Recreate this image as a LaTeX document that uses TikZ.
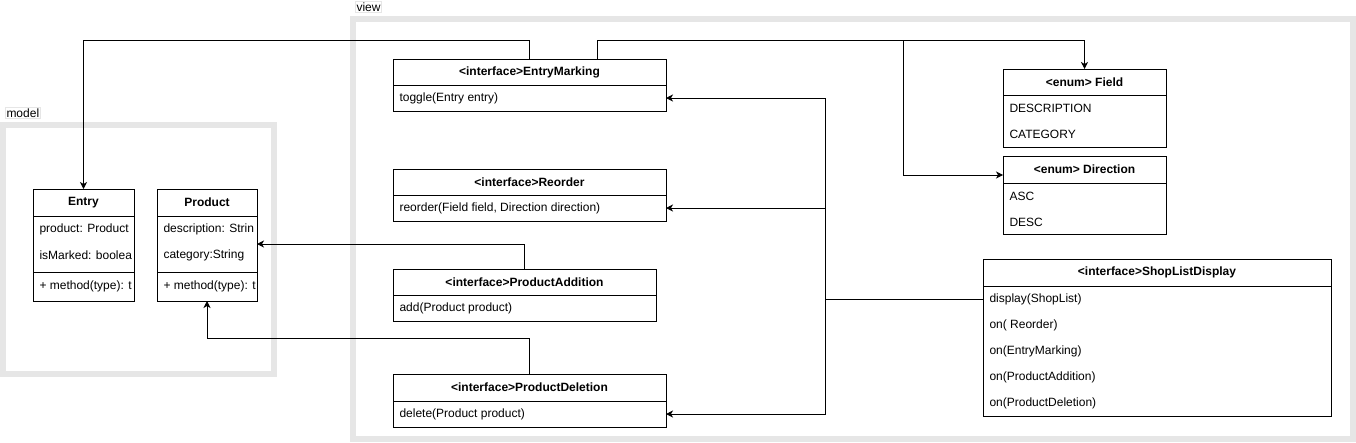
\documentclass[tikz,border=0pt]{standalone}
\usepackage{fontspec}
\setmainfont{Liberation Sans}
\usetikzlibrary{positioning,arrows.meta}
\definecolor{framegrey}{HTML}{E6E6E6}
\tikzset{
  pkgframe/.style={draw=framegrey, line width=6pt},
  pkglabel/.style={draw=framegrey, fill=white, inner sep=1pt, anchor=north west},
  classhead/.style={draw, font=\fontsize{12}{14}\selectfont\bfseries, minimum height=26pt, inner sep=0pt, outer sep=0pt},
  classbody/.style={draw, inner sep=0pt, outer sep=0pt},
  row/.style={anchor=west, inner sep=0pt},
}

\begin{document}
\begin{tikzpicture}[x=1pt,y=-1pt,font=\fontsize{12}{14}\selectfont,line width=1pt,>={Stealth[length=7pt,width=7pt,inset=2pt]}]
			\useasboundingbox (0,0) rectangle (1356,442);
			% packages
			\draw[pkgframe] (3,125) rectangle (274,374);
			\draw[pkgframe] (353,19) rectangle (1353,439);
			\node[pkglabel] (model) at (5,107) {model};
			\node[pkglabel] (view) at (355,1) {view};

			% model classes
			\node[classhead, minimum width=101pt, minimum height=27pt] (entry) at (83.5,202.5) {Entry};
			\node[classbody, minimum width=101pt, minimum height=56pt, below=0pt of entry] (entry-a) {};
			\node[classbody, minimum width=101pt, minimum height=29pt, below=0pt of entry-a] (entry-m) {};
			\node[classhead, minimum width=100pt, minimum height=27pt] (prod) at (207,202.5) {Product};
			\node[classbody, minimum width=100pt, minimum height=56pt, below=0pt of prod] (prod-a) {};
			\node[classbody, minimum width=100pt, minimum height=29pt, below=0pt of prod-a] (prod-m) {};
			\node[row] at ([xshift=6pt,yshift=-13pt]entry-a.north west) {product: Product};
			\node[row] at ([xshift=6pt,yshift=-39pt]entry-a.north west) {isMarked: boolea};
			\node[row] at ([xshift=6pt]entry-m.west) {+ method(type): t};
			\node[row] at ([xshift=6pt,yshift=-13pt]prod-a.north west) {description: Strin};
			\node[row] at ([xshift=6pt,yshift=-39pt]prod-a.north west) {category:String};
			\node[row] at ([xshift=6pt]prod-m.west) {+ method(type): t};

			% view interfaces
			\node[classhead, minimum width=273pt] (em) at (529.5,72) {<interface>EntryMarking};
			\node[classbody, minimum width=273pt, minimum height=26pt, below=0pt of em] (em-b) {};
			\node[row] at ([xshift=6pt]em-b.west) {toggle(Entry entry)};
			\node[classhead, minimum width=273pt] (ro) at (529.5,182) {<interface>Reorder};
			\node[classbody, minimum width=273pt, minimum height=26pt, below=0pt of ro] (ro-b) {};
			\node[row] at ([xshift=6pt]ro-b.west) {reorder(Field field, Direction direction)};
			\node[classhead, minimum width=263pt] (pa) at (524.5,282) {<interface>ProductAddition};
			\node[classbody, minimum width=263pt, minimum height=26pt, below=0pt of pa] (pa-b) {};
			\node[row] at ([xshift=6pt]pa-b.west) {add(Product product)};
			\node[classhead, minimum width=273pt, minimum height=27pt] (pd) at (529.5,387.5) {<interface>ProductDeletion};
			\node[classbody, minimum width=273pt, minimum height=26pt, below=0pt of pd] (pd-b) {};
			\node[row] at ([xshift=6pt]pd-b.west) {delete(Product product)};

			% enums
			\node[classhead, minimum width=163pt] (fld) at (1084.5,82) {<enum> Field};
			\node[classbody, minimum width=163pt, minimum height=52pt, below=0pt of fld] (fld-b) {};
			\node[classhead, minimum width=163pt, minimum height=27pt] (dir) at (1084.5,169.5) {<enum> Direction};
			\node[classbody, minimum width=163pt, minimum height=51pt, below=0pt of dir] (dir-b) {};
			\foreach \t [count=\i] in {DESCRIPTION, CATEGORY}
				\node[row] at ([xshift=6pt,yshift={13pt-26pt*\i}]fld-b.north west) {\t};
			\foreach \t [count=\i] in {ASC, DESC}
				\node[row] at ([xshift=6pt,yshift={13pt-26pt*\i}]dir-b.north west) {\t};

			% display
			\node[classhead, minimum width=348pt, minimum height=27pt] (sld) at (1157,272.5) {<interface>ShopListDisplay};
			\node[classbody, minimum width=348pt, minimum height=130pt, below=0pt of sld] (sld-b) {};
			\foreach \t [count=\i] in {display(ShopList), on( Reorder), on(EntryMarking), on(ProductAddition), on(ProductDeletion)}
				\node[row] at ([xshift=6pt,yshift={13pt-26pt*\i}]sld-b.north west) {\t};

			% connectors
			\coordinate (split) at (903,40);
			\coordinate (bus) at (825,299);
			\draw[->] (em.north) -- ++(0,-19) -| (entry.north);
			\draw[->] ([xshift=67.5pt]em.north) -- ++(0,-19) -| (fld.north);
			\draw[->] (split) |- ([yshift=-5.5pt]dir.west);
			\draw[->] (pa.north) |- (prod-a.east);
			\draw[->] (pd.north) -- ++(0,-36) -| (prod-m.south);
			\draw ([yshift=-13pt]sld-b.north west) -- (bus);
			\draw[->] (bus) |- (em-b.east);
			\draw[->] (bus) |- (ro-b.east);
			\draw[->] (bus) |- (pd-b.east);
		\end{tikzpicture}
\end{document}
